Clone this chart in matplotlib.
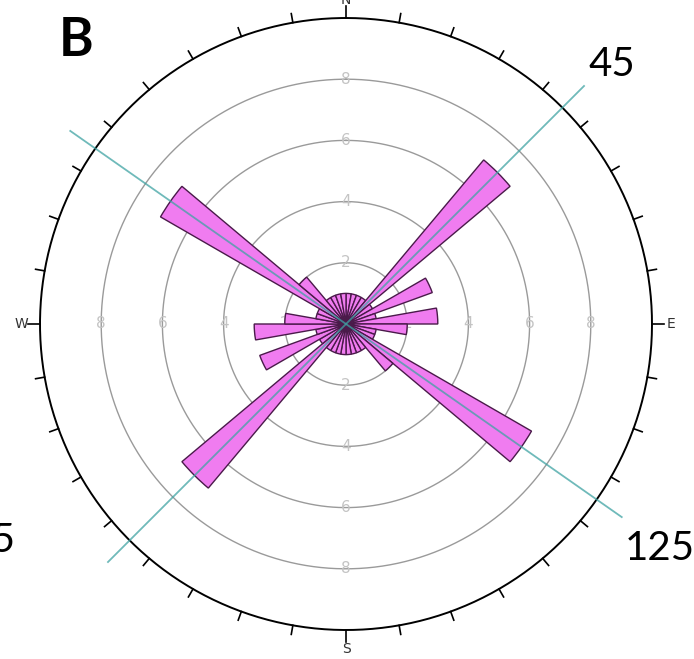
import numpy as np
import matplotlib
matplotlib.use("Agg")
import matplotlib.pyplot as plt

# strike counts in 10 degree bins from 0 to 180, plotted bidirectionally
bin_width = 10
counts_half = [1, 1, 1, 1, 7, 1, 3, 1, 3, 2, 1, 1, 7, 2, 1, 1, 1, 1]
ring_values = [2, 4, 6, 8]
trend_lines = [45, 125]
trend_labels = ["45", "125", "225"]
cardinals = ["N", "E", "S", "W"]

counts = counts_half + counts_half
centers = np.arange(len(counts)) * bin_width + bin_width / 2

W, H = 694, 659
cx, cy = 346, 324          # centre of the rose, pixels
px_per_unit = 30.6
rmax = 11.4
half = rmax * px_per_unit

fig = plt.figure(figsize=(W / 100, H / 100), dpi=100)
ax = fig.add_axes([(cx - half) / W, (H - cy - half) / H, 2 * half / W, 2 * half / H],
                  projection="polar")
ax.set_theta_zero_location("N")
ax.set_theta_direction(-1)
ax.set_ylim(0, rmax)
ax.axis("off")

# petals
ax.bar(np.radians(centers), counts, width=np.radians(bin_width), bottom=0,
       color="#f07cf0", edgecolor="#4a1a4a", linewidth=1.0, zorder=3)

# rings and their labels
t = np.linspace(0, 2 * np.pi, 400)
for r in ring_values:
    ax.plot(t, np.full_like(t, r), color="#9a9a9a", lw=1.0, zorder=1)
    for ang in [0, 90, 180, 270]:
        ax.text(np.radians(ang), r, str(r), ha="center", va="center",
                fontsize=11, color="#c4c4c4", zorder=2)

# outer circle with ticks every 10 degrees
ax.plot(t, np.full_like(t, 10), color="black", lw=1.4, zorder=4, clip_on=False)
for a in range(0, 360, 10):
    ln = 10.4 if a % 90 == 0 else 10.3
    ax.plot([np.radians(a)] * 2, [10, ln], color="black", lw=1.2, zorder=4,
            clip_on=False)
for a, lab in zip([0, 90, 180, 270], cardinals):
    rr = 10.35 if lab == "N" else 10.62
    va = "bottom" if lab == "N" else "center"
    ax.text(np.radians(a), rr, lab, ha="center", va=va, fontsize=10,
            color="#333333", clip_on=False)

# trend lines
for a in trend_lines:
    ax.plot([np.radians(a), np.radians(a + 180)], [11, 11], color="#3fa3a3",
            lw=1.3, alpha=0.75, zorder=5)

fig.text(76 / W, 1 - 40 / H, "B", fontsize=38, fontweight="bold",
         family="Lato", ha="center", va="center")
fig.text(612 / W, 1 - 65 / H, trend_labels[0], fontsize=29, family="Lato",
         ha="center", va="center")
fig.text(660 / W, 1 - 548 / H, trend_labels[1], fontsize=29, family="Lato",
         ha="center", va="center")
fig.text(15 / W, 1 - 540 / H, trend_labels[2], fontsize=29, family="Lato",
         ha="right", va="center")

fig.savefig("out.png", dpi=100, facecolor="white")
